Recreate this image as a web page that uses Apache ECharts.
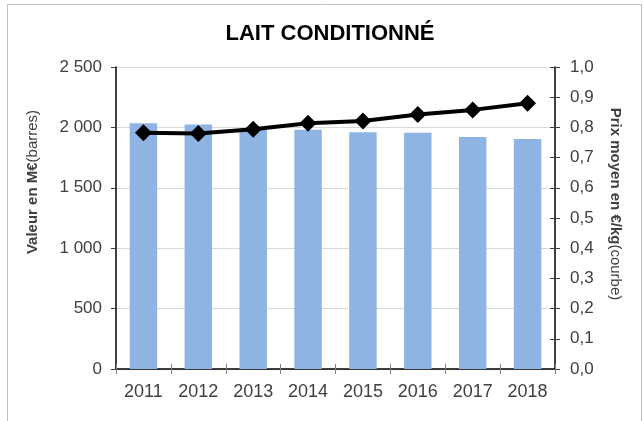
<!DOCTYPE html>
<html>
	<head>
		<meta charset="utf-8">
		<title>Lait conditionné</title>
		<script src="https://cdn.jsdelivr.net/npm/echarts@6/dist/echarts.min.js"></script>
		<style>
			html, body { margin: 0; padding: 0; background: #fff; }
			#chart { width: 643px; height: 421px; }
		</style>
	</head>
	<body>
		<div id="chart"></div>
		<script>
			// donnees
			var years = ['2011', '2012', '2013', '2014', '2015', '2016', '2017', '2018']
			var valeur = [2035, 2025, 1990, 1980, 1960, 1955, 1920, 1905] // M€ (barres)
			var prix = [0.782, 0.780, 0.794, 0.814, 0.821, 0.843, 0.858, 0.880] // €/kg (courbe)

			var font = 'Liberation Sans, Arial, sans-serif'
			var txt = '#404040'

			var myChart = echarts.init(document.getElementById('chart'))
			var option = {
				animation: false,
				textStyle: { fontFamily: font },
				title: {
					text: 'LAIT CONDITIONNÉ',
					left: 330,
					top: 23,
					padding: 0,
					textAlign: 'center',
					textStyle: { fontFamily: font, fontSize: 22, fontWeight: 'bold', color: '#000' }
				},
				graphic: [{
					type: 'rect',
					shape: { x: 7.5, y: 4.5, width: 634, height: 440 },
					style: { fill: 'none', stroke: '#bfbfbf', lineWidth: 1 },
					silent: true
				}],
				grid: { left: 116, right: 88, top: 67, bottom: 52 },
				xAxis: [{
					type: 'category',
					data: years,
					position: 'bottom',
					axisLine: { lineStyle: { color: '#000', width: 1.5 } },
					axisTick: { show: true, length: 5, lineStyle: { color: '#808080' } },
					axisLabel: { fontSize: 18, color: txt, margin: 14, fontFamily: font }
				}, {
					type: 'category',
					data: years,
					position: 'bottom',
					axisLine: { show: false },
					axisTick: { show: true, inside: true, length: 5, lineStyle: { color: '#808080' } },
					axisLabel: { show: false }
				}],
				yAxis: [{
					type: 'value',
					min: 0,
					max: 2500,
					interval: 500,
					position: 'left',
					name: '{b|Valeur en M€}{n|(barres)}',
					nameLocation: 'middle',
					nameGap: 76,
					nameTextStyle: {
						color: txt,
						padding: [0, 0, 0, 72],
						rich: {
							b: { fontSize: 15, fontWeight: 'bold', color: txt, fontFamily: font },
							n: { fontSize: 15, color: txt, fontFamily: font }
						}
					},
					axisLine: { show: true, lineStyle: { color: '#000', width: 1.5 } },
					axisTick: { show: true, length: 5, lineStyle: { color: '#404040' } },
					splitLine: { lineStyle: { color: '#d9d9d9' } },
					axisLabel: {
						fontSize: 17,
						color: txt,
						margin: 14,
						fontFamily: font,
						formatter: function(v) {
							return String(v).replace(/\B(?=(\d{3})+(?!\d))/g, ' ')
						}
					}
				}, {
					type: 'value',
					min: 0,
					max: 1,
					interval: 0.1,
					position: 'right',
					name: '{b|Prix moyen en €/kg}{n|(courbe)}',
					nameLocation: 'middle',
					nameRotate: -90,
					nameGap: 53,
					nameTextStyle: {
						color: txt,
						padding: [0, 28, 0, 0],
						rich: {
							b: { fontSize: 15, fontWeight: 'bold', color: txt, fontFamily: font },
							n: { fontSize: 15, color: txt, fontFamily: font }
						}
					},
					axisLine: { show: true, lineStyle: { color: '#000', width: 1.5 } },
					axisTick: { show: true, length: 5, lineStyle: { color: '#404040' } },
					splitLine: { show: false },
					axisLabel: {
						fontSize: 17,
						color: txt,
						margin: 15,
						fontFamily: font,
						formatter: function(v) {
							return v.toFixed(1).replace('.', ',')
						}
					}
				}, {
					// petits traits vers l'interieur (axe de droite)
					type: 'value',
					min: 0,
					max: 1,
					interval: 0.1,
					position: 'right',
					axisLine: { show: false },
					axisTick: { show: true, inside: true, length: 5, lineStyle: { color: '#404040' } },
					splitLine: { show: false },
					axisLabel: { show: false }
				}],
				series: [{
					name: 'Valeur',
					type: 'bar',
					data: valeur,
					xAxisIndex: 0,
					yAxisIndex: 0,
					barWidth: '50%',
					itemStyle: { color: '#8eb4e3' }
				}, {
					name: 'Prix',
					type: 'line',
					data: prix,
					xAxisIndex: 0,
					yAxisIndex: 1,
					symbol: 'diamond',
					symbolSize: 17,
					z: 5,
					lineStyle: { color: '#000', width: 4 },
					itemStyle: { color: '#000' }
				}]
			}
			myChart.setOption(option)
		</script>
	</body>
</html>
